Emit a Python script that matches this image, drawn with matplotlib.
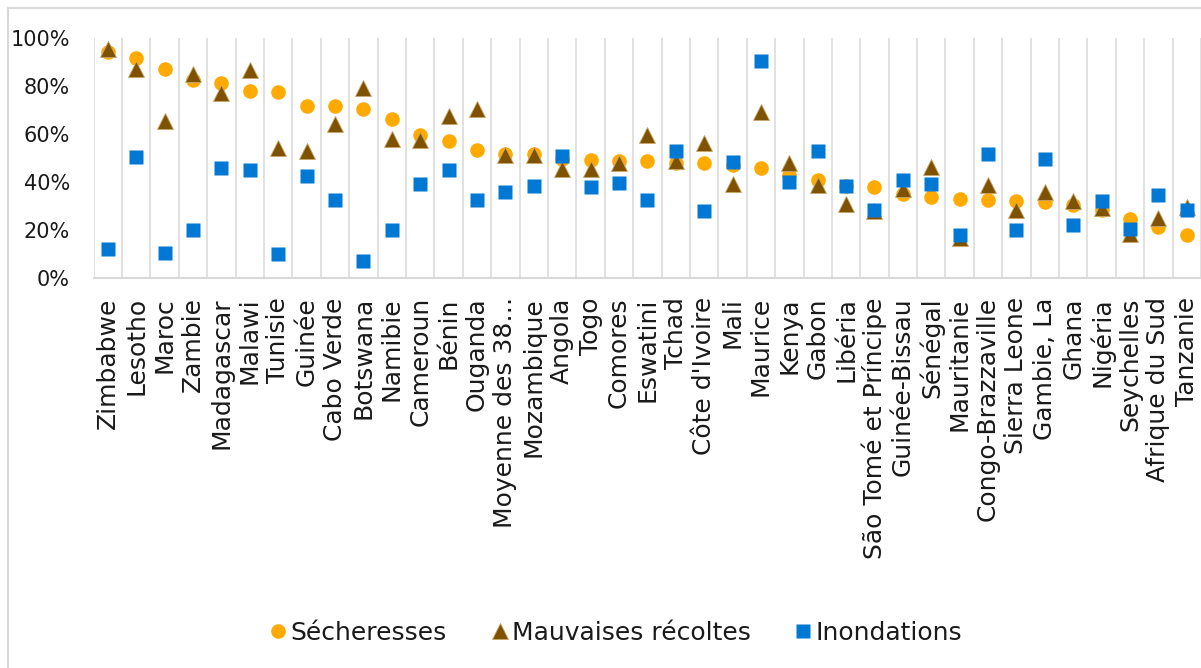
import numpy as np
import matplotlib
matplotlib.use("Agg")
import matplotlib.pyplot as plt
from matplotlib.lines import Line2D
from matplotlib.ticker import PercentFormatter

# Categories (sorted by share of households hit by droughts)
pays = ["Zimbabwe", "Lesotho", "Maroc", "Zambie", "Madagascar", "Malawi", "Tunisie",
        "Guinée", "Cabo Verde", "Botswana", "Namibie", "Cameroun", "Bénin", "Ouganda",
        "Moyenne des 38…", "Mozambique", "Angola", "Togo", "Comores", "Eswatini",
        "Tchad", "Côte d'Ivoire", "Mali", "Maurice", "Kenya", "Gabon", "Libéria",
        "São Tomé et Príncipe", "Guinée-Bissau", "Sénégal", "Mauritanie",
        "Congo-Brazzaville", "Sierra Leone", "Gambie, La", "Ghana", "Nigéria",
        "Seychelles", "Afrique du Sud", "Tanzanie"]

secheresses = [94.0, 91.6, 87.0, 82.4, 81.2, 77.9, 77.3, 71.7, 71.4, 70.3, 66.2, 59.4, 56.9,
               53.4, 51.4, 51.4, 49.3, 49.0, 48.7, 48.6, 47.9, 47.8, 46.9, 45.9, 42.6, 40.9,
               38.4, 37.8, 35.0, 33.8, 32.8, 32.4, 32.1, 31.4, 30.4, 28.3, 24.4, 21.0, 17.9]
recoltes = [95.5, 86.8, 65.3, 85.0, 77.0, 86.7, 53.9, 52.9, 64.1, 79.1, 57.7, 57.4, 67.5,
            70.3, 51.3, 51.3, 45.1, 45.4, 47.9, 59.5, 48.5, 56.3, 38.9, 68.9, 47.9, 38.5,
            30.7, 27.6, 37.0, 46.1, 16.4, 38.5, 28.2, 35.7, 31.9, 28.9, 18.2, 24.9, 29.6]
inondations = [11.9, 50.1, 10.4, 19.9, 45.9, 44.7, 9.8, 42.2, 32.5, 7.0, 19.9, 38.9, 44.8,
               32.2, 35.6, 38.1, 50.6, 37.7, 39.4, 32.5, 52.7, 27.6, 48.2, 90.2, 39.8, 52.7,
               38.1, 28.3, 40.9, 39.2, 17.8, 51.5, 20.0, 49.3, 22.0, 31.8, 20.4, 34.3, 28.4]

ORANGE = "#FFAA00"
BRUN = "#7F5200"
BLEU = "#0078D4"
GRIS = "#D9D9D9"

fig = plt.figure(figsize=(12.01, 6.68), dpi=100)
W, H = 1201, 668
ax = fig.add_axes([93.7 / W, 1 - 277.7 / H, 1 - 93.7 / W, 240 / H])

x = np.arange(len(pays))
ax.plot(x, secheresses, ls="none", marker="o", ms=10.5, mec="none", color=ORANGE,
        label="Sécheresses", clip_on=False, zorder=3)
ax.plot(x, recoltes, ls="none", marker="^", ms=11, mec="#C9A56A", mew=0.6, color=BRUN,
        label="Mauvaises récoltes", clip_on=False, zorder=4)
ax.plot(x, inondations, ls="none", marker="s", ms=10, mec="none", color=BLEU,
        label="Inondations", clip_on=False, zorder=5)

ax.set_ylim(0, 100)
ax.set_xlim(-0.5, (W - 108) / 28.63)
ax.set_yticks(np.arange(0, 101, 20))
ax.yaxis.set_major_formatter(PercentFormatter(decimals=0))
ax.set_xticks(x)
ax.set_xticklabels(pays, rotation=90, fontsize=18)
ax.set_xticks(np.arange(-0.5, len(pays)), minor=True)
ax.grid(axis="x", which="minor", color=GRIS, lw=1.1)
ax.tick_params(axis="x", which="both", length=0, pad=14)
ax.tick_params(axis="y", length=0, pad=17, labelsize=15)
for lab in ax.get_yticklabels() + ax.get_xticklabels():
    lab.set_color("#1a1a1a")

for side in ["top", "right", "left"]:
    ax.spines[side].set_visible(False)
ax.spines["bottom"].set_color(GRIS)
ax.spines["bottom"].set_linewidth(1.5)

# chart area border (cut by the image edge)
fig.add_artist(Line2D([8 / W, 8 / W], [0, 1 - 8 / H], color=GRIS, lw=1.5))
fig.add_artist(Line2D([8 / W, 1], [1 - 8 / H, 1 - 8 / H], color=GRIS, lw=1.5))

leg = fig.legend(loc="center", bbox_to_anchor=(616 / W, 1 - 633 / H), ncol=3,
                 frameon=False, fontsize=18, handlelength=0.7, handletextpad=0.15,
                 columnspacing=1.75, borderpad=0)
for t in leg.get_texts():
    t.set_color("#1a1a1a")

fig.savefig("out.png", dpi=100)
